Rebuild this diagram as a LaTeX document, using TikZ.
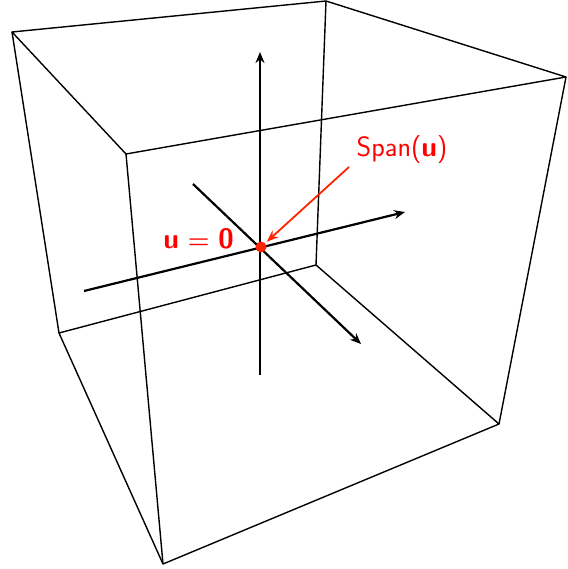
\documentclass[tikz,border=0pt]{standalone}
\usepackage{amsmath}
\usetikzlibrary{arrows.meta, positioning}
\definecolor{spanred}{RGB}{255,35,0}

\begin{document}
\begin{tikzpicture}[x=1pt, y=-1pt, font=\fontsize{28}{32}\selectfont\sffamily,
    edge/.style={line width=1.4pt, line join=round},
    axis/.style={line width=2.2pt, -{Stealth[length=11pt,width=9pt]}},
    pointer/.style={spanred, line width=1.8pt, shorten >=2pt, -{Stealth[length=12pt,width=9pt]}}]
  \useasboundingbox (0,0) rectangle (567,569);
  % cube corners
  \coordinate (tbl) at (12,32);
  \coordinate (tbr) at (326,1);
  \coordinate (tfr) at (566,77);
  \coordinate (tfl) at (126,154);
  \coordinate (bbl) at (59,333);
  \coordinate (bbr) at (316,265);
  \coordinate (bfr) at (499,424);
  \coordinate (bfl) at (163,564);
  \draw[edge] (tbl) -- (tbr) -- (tfr) -- (tfl) -- cycle;
  \draw[edge] (bbl) -- (bbr) -- (bfr) -- (bfl) -- cycle;
  \draw[edge] (tbl) -- (bbl);
  \draw[edge] (tbr) -- (bbr);
  \draw[edge] (tfr) -- (bfr);
  \draw[edge] (tfl) -- (bfl);
  % axes through the origin
  \coordinate (zlo) at (260,375);
  \coordinate (zhi) at (260,52);
  \coordinate (xlo) at (84,291);
  \coordinate (xhi) at (405,212);
  \coordinate (ylo) at (193,184);
  \coordinate (yhi) at (361,344);
  \draw[axis] (zlo) -- (zhi);
  \draw[axis] (xlo) -- (xhi);
  \draw[axis] (ylo) -- (yhi);
  \node[circle, fill=spanred, inner sep=0pt, minimum size=11pt] (orig) at (261,247) {};
  \node[red, anchor=east, inner sep=0pt] (zero) at (234,239) {\textbf{u} {\boldmath$=$} \textbf{0}};
  \node[red] (span) at (402,150) {Span(\textbf{u})};
  \draw[pointer] (349,167) -- (orig);
\end{tikzpicture}
\end{document}
